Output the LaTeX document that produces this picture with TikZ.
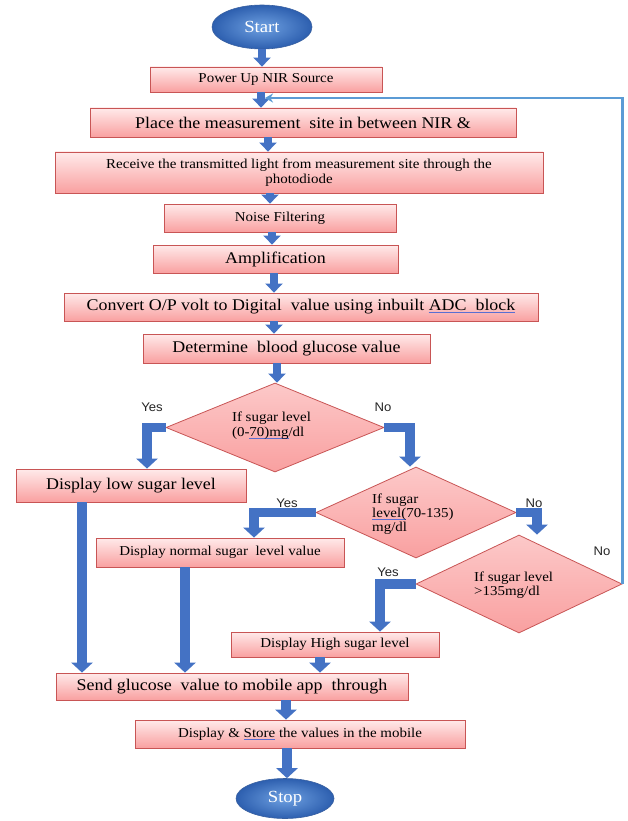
\documentclass[tikz,border=0pt]{standalone}
\usepackage{fontspec}
\newfontfamily\serifw{Liberation Serif}[FakeStretch=1.1]
\newfontfamily\sansw{Liberation Sans}[FakeStretch=1.05]
\usetikzlibrary{shapes.geometric,arrows.meta,shadows}
\definecolor{pinktop}{RGB}{255,234,234}
\definecolor{pinkbot}{RGB}{249,160,160}
\definecolor{pinkedge}{RGB}{200,85,85}
\definecolor{arrowblue}{RGB}{68,114,196}
\definecolor{fbblue}{RGB}{91,155,213}
\definecolor{ulblue}{RGB}{90,110,210}
\definecolor{ovalin}{RGB}{110,160,225}
\definecolor{ovalout}{RGB}{45,95,175}
\definecolor{ovaledge}{RGB}{55,95,160}
\newcommand\splchk[1]{\setbox0\hbox{#1}\rlap{\color{ulblue}\rule[-2.4pt]{\wd0}{0.8pt}}\box0\relax}
\begin{document}
\begin{tikzpicture}[x=1pt,y=-1pt,
  pbox/.style={draw=pinkedge, line width=0.8pt, top color=pinktop, bottom color=pinkbot, inner sep=0pt, align=center, text=black,
     drop shadow={shadow xshift=1.2pt, shadow yshift=-1.2pt, fill=black!30, opacity=0.5}},
  bigtxt/.style={font=\serifw\fontsize{16.3}{18}\selectfont},
  smalltxt/.style={font=\serifw\fontsize{13.6}{14.5}\selectfont},
  dmd/.style={diamond, draw=pinkedge, line width=0.8pt, top color=pinktop!55!pinkbot, bottom color=pinkbot, inner sep=0pt},
  oval/.style={ellipse, draw=ovaledge, line width=0.6pt, inner color=ovalin, outer color=ovalout, text=white, font=\serifw\fontsize{17}{19}\selectfont},
  blk/.style={draw=arrowblue, line width=7.5pt, -{Triangle[width=17pt,length=9pt]}},
  bigblk/.style={draw=arrowblue, line width=9.5pt, line join=miter, -{Triangle[width=21pt,length=10pt]}},
  yn/.style={font=\sansw\fontsize{12.5}{14}\selectfont, text=black!85},
  fb/.style={draw=fbblue, line width=2.2pt, -{Stealth[length=8pt,width=9pt]}},
]
\useasboundingbox (0,0) rectangle (628,821);
\fill[white] (0,0) rectangle (628,821);

% nodes
\node[oval, minimum width=100, minimum height=44] (start) at (262,27) {Start};
\node[pbox, smalltxt, minimum width=232, minimum height=25] (power) at (266,79.5) {Power Up NIR Source};
\node[pbox, bigtxt, minimum width=426, minimum height=29] (place) at (303,122.5) {Place the measurement\ \ site in between NIR \&};
\node[pbox, smalltxt, minimum width=488, minimum height=41] (recv) at (299,172.5) {Receive the transmitted light from measurement site through the\\photodiode};
\node[pbox, smalltxt, minimum width=232, minimum height=28] (noise) at (280,218) {Noise Filtering};
\node[pbox, bigtxt, minimum width=245, minimum height=28] (amp) at (275.5,259) {Amplification};
\node[pbox, bigtxt, minimum width=474, minimum height=28] (conv) at (301,307) {Convert O/P volt to Digital\ \ value using inbuilt \splchk{ADC\ \ block}};
\node[pbox, bigtxt, minimum width=287, minimum height=29] (det) at (286.5,348.5) {Determine\ \ blood glucose value};

\node[dmd, minimum width=218, minimum height=89] (d1) at (275,427.5) {};
\node[smalltxt, align=left, inner sep=0pt, text=black] (t1) at (271.5,425.5) {If sugar level\\(0-\splchk{70)mg}/dl};

\node[pbox, bigtxt, minimum width=230, minimum height=33] (low) at (131,485.5) {Display low sugar level};

\node[dmd, minimum width=200, minimum height=91] (d2) at (416,512.5) {};
\node[font=\serifw\fontsize{13.6}{14}\selectfont, align=left, inner sep=0pt, anchor=west, text=black] (t2) at (372,514) {If sugar\\\splchk{level(}70-135)\\mg/dl};

\node[pbox, smalltxt, minimum width=248, minimum height=29] (normal) at (220,552.5) {Display normal sugar\ \ level value};

\node[dmd, minimum width=206, minimum height=98] (d3) at (519,584) {};
\node[smalltxt, align=left, inner sep=0pt, anchor=west, text=black] (t3) at (474,585) {If sugar level\\>135mg/dl};

\node[pbox, smalltxt, minimum width=208, minimum height=25] (high) at (335,644.5) {Display High sugar level};
\node[pbox, bigtxt, minimum width=352, minimum height=27] (send) at (232,686.5) {Send glucose\ \ value to mobile app\ \ through};
\node[pbox, smalltxt, minimum width=330, minimum height=28] (store) at (300,734) {Display \& \splchk{Store} the values in the mobile};
\node[oval, minimum width=98, minimum height=40] (stop) at (285,798.5) {Stop};

% labels
\node[yn] (y1) at (152,407) {Yes};
\node[yn] (n1) at (383,407) {No};
\node[yn] (y2) at (287,503) {Yes};
\node[yn] (n2) at (534,503) {No};
\node[yn] (y3) at (388,572) {Yes};
\node[yn] (n3) at (602,551) {No};

% straight arrows
\draw[blk] (start.south) -- (start.south |- power.north);
\draw[blk] ([xshift=-5]power.south) -- ([xshift=-5]power.south |- place.north);
\draw[blk] ([xshift=-35]place.south) -- ([xshift=-35]place.south |- recv.north);
\draw[blk] ([xshift=-29]recv.south) -- ([xshift=-29]recv.south |- noise.north);
\draw[blk] ([xshift=-8]noise.south) -- ([xshift=-8]noise.south |- amp.north);
\draw[blk] ([xshift=-1.5]amp.south) -- ([xshift=-1.5]amp.south |- conv.north);
\draw[blk] ([xshift=-27]conv.south) -- ([xshift=-27]conv.south |- det.north);
\draw[blk] ([xshift=-9.5]det.south) -- ([xshift=-9.5]det.south |- d1.north);

% decision arrows
\draw[bigblk] (d1.west) -| ([xshift=16]low.north);
\draw[bigblk] (d1.east) -| ([xshift=-6]d2.north);
\draw[bigblk] (d2.west) -| ([xshift=34]normal.north);
\draw[bigblk] (d2.east) -| ([xshift=18]d3.north);
\draw[bigblk] (d3.west) -| ([xshift=45]high.north);

% merge arrows
\draw[bigblk] ([xshift=-49]low.south) -- ([xshift=-49]low.south |- send.north);
\draw[bigblk] ([xshift=-35]normal.south) -- ([xshift=-35]normal.south |- send.north);
\draw[bigblk] ([xshift=-15]high.south) -- ([xshift=-15]high.south |- send.north);
\draw[bigblk] ([xshift=54]send.south) -- ([xshift=54]send.south |- store.north);
\draw[bigblk] ([xshift=-13]store.south) -- ([xshift=-13]store.south |- stop.north);

% feedback loop
\coordinate (fbend) at (265,98);
\draw[fb] (d3.east) |- (fbend);
\end{tikzpicture}
\end{document}
